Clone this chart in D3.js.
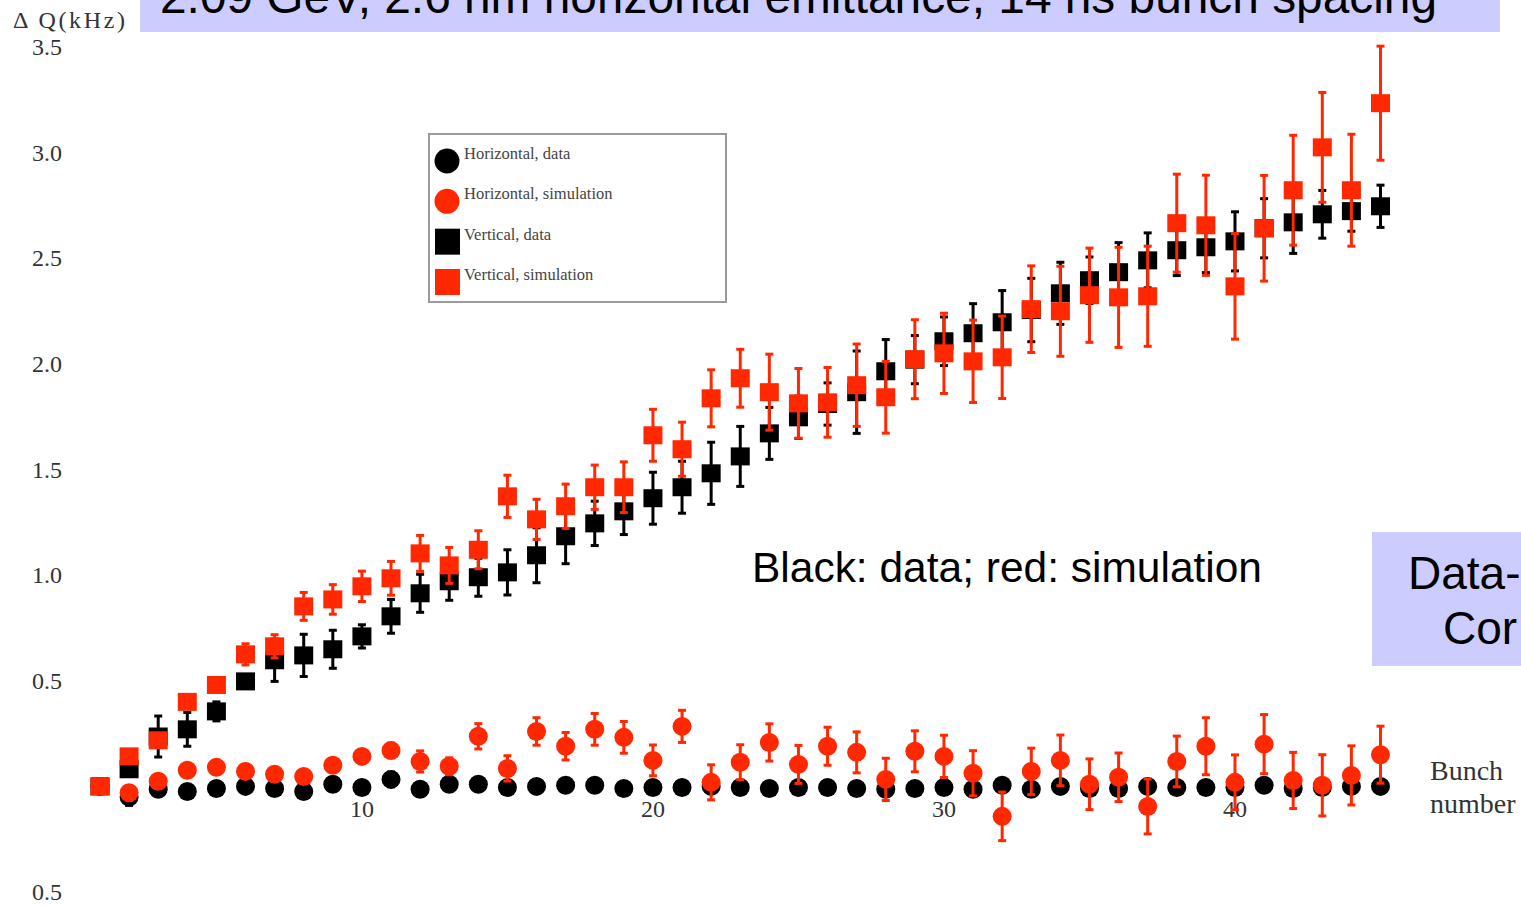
<!DOCTYPE html>
<html>
<head>
<meta charset="utf-8">
<script src="https://cdn.jsdelivr.net/npm/d3@7"></script>
<style>
  html, body { margin: 0; padding: 0; background: #fff; overflow: hidden; }
  svg { display: block; }
</style>
</head>
<body>
<svg id="chart" width="1521" height="907"></svg>
<script>
// Bunch-by-bunch tune shift along a 45-bunch train
const bunches = [1,2,3,4,5,6,7,8,9,10,11,12,13,14,15,16,17,18,19,20,21,22,23,24,25,26,27,28,29,30,31,32,33,34,35,36,37,38,39,40,41,42,43,44,45];

const xTicks = [10, 20, 30, 40];
const xTickLabels = ["10", "20", "30", "40"];
const yTicks = [3.5, 3.0, 2.5, 2.0, 1.5, 1.0, 0.5, -0.5];
const yTickLabels = ["3.5", "3.0", "2.5", "2.0", "1.5", "1.0", "0.5", "0.5"];

// Horizontal, data (kHz) and errors
const horizData = [0.0, -0.05, -0.014, -0.024, -0.01, 0.0, -0.01, -0.024, 0.01, -0.005, 0.033, -0.014, 0.01, 0.01, -0.005, 0.0, 0.005, 0.005, -0.01, -0.005, -0.005, 0.0, -0.005, -0.01, -0.005, -0.005, -0.01, -0.014, -0.01, -0.005, -0.014, 0.005, -0.014, 0.0, -0.01, -0.01, 0.0, -0.005, -0.005, -0.005, 0.005, -0.01, -0.005, 0.0, 0.0];
const horizDataErr = [0, 0.04, 0.02, 0.02, 0.01, 0.01, 0.015, 0.02, 0.02, 0.01, 0.035, 0.01, 0.01, 0.01, 0.03, 0.01, 0.01, 0.01, 0.01, 0.01, 0.01, 0.02, 0.01, 0.01, 0.01, 0.01, 0.01, 0.01, 0.01, 0.01, 0.01, 0.01, 0.01, 0.01, 0.01, 0.01, 0.01, 0.01, 0.01, 0.01, 0.01, 0.01, 0.01, 0.01, 0.01];

// Horizontal, simulation
const horizSim = [0.0, -0.03, 0.024, 0.076, 0.09, 0.071, 0.057, 0.047, 0.1, 0.142, 0.17, 0.118, 0.095, 0.237, 0.085, 0.26, 0.19, 0.27, 0.232, 0.123, 0.284, 0.019, 0.114, 0.208, 0.104, 0.19, 0.161, 0.033, 0.166, 0.142, 0.062, -0.142, 0.071, 0.123, 0.01, 0.043, -0.095, 0.118, 0.19, 0.019, 0.2, 0.028, 0.005, 0.052, 0.15];
const horizSimErr = [0, 0.01, 0.015, 0.02, 0.02, 0.02, 0.02, 0.02, 0.025, 0.03, 0.035, 0.05, 0.04, 0.06, 0.06, 0.065, 0.065, 0.075, 0.075, 0.073, 0.076, 0.083, 0.083, 0.088, 0.09, 0.09, 0.097, 0.1, 0.097, 0.1, 0.107, 0.115, 0.11, 0.12, 0.12, 0.115, 0.13, 0.12, 0.135, 0.13, 0.14, 0.133, 0.145, 0.14, 0.135];

// Vertical, data
const vertData = [0.0, 0.081, 0.236, 0.27, 0.355, 0.497, 0.597, 0.62, 0.649, 0.71, 0.805, 0.914, 0.971, 0.99, 1.013, 1.094, 1.184, 1.245, 1.302, 1.364, 1.416, 1.482, 1.562, 1.671, 1.747, 1.81, 1.866, 1.965, 2.02, 2.107, 2.145, 2.197, 2.255, 2.334, 2.396, 2.434, 2.49, 2.538, 2.552, 2.58, 2.642, 2.67, 2.708, 2.723, 2.746];
const vertDataErr = [0, 0.02, 0.097, 0.08, 0.045, 0.03, 0.1, 0.1, 0.09, 0.055, 0.08, 0.09, 0.09, 0.09, 0.107, 0.13, 0.13, 0.105, 0.11, 0.123, 0.123, 0.147, 0.142, 0.123, 0.1, 0.1, 0.195, 0.15, 0.114, 0.115, 0.14, 0.15, 0.15, 0.147, 0.11, 0.14, 0.13, 0.12, 0.12, 0.14, 0.14, 0.147, 0.113, 0.095, 0.1];

// Vertical, simulation
const vertSim = [0.0, 0.142, 0.218, 0.40, 0.48, 0.625, 0.663, 0.852, 0.885, 0.947, 0.985, 1.103, 1.046, 1.12, 1.373, 1.264, 1.326, 1.416, 1.416, 1.662, 1.596, 1.837, 1.932, 1.866, 1.813, 1.818, 1.899, 1.842, 2.022, 2.05, 2.012, 2.031, 2.259, 2.249, 2.325, 2.315, 2.32, 2.666, 2.656, 2.367, 2.642, 2.822, 3.025, 2.822, 3.234];
const vertSimErr = [0, 0.02, 0.02, 0.03, 0.03, 0.05, 0.055, 0.066, 0.07, 0.072, 0.08, 0.085, 0.085, 0.09, 0.10, 0.095, 0.105, 0.105, 0.12, 0.123, 0.128, 0.135, 0.137, 0.18, 0.165, 0.165, 0.195, 0.17, 0.187, 0.19, 0.195, 0.195, 0.205, 0.213, 0.223, 0.237, 0.237, 0.232, 0.237, 0.25, 0.25, 0.26, 0.26, 0.265, 0.27];

const legendLabels = ["Horizontal, data", "Horizontal, simulation", "Vertical, data", "Vertical, simulation"];

const RED = "#ff2800";
const BLACK = "#000000";
const serif = "'Liberation Serif', 'DejaVu Serif', serif";
const sans = "'Liberation Sans', Arial, sans-serif";

const svg = d3.select("#chart");

const x = d3.scaleLinear().domain([1, 45]).range([100, 1380.5]);
const y = d3.scaleLinear().domain([-0.5, 3.5]).range([892, 47]);

// Title banner (runs past the top edge of the page)
svg.append("rect").attr("x", 140).attr("y", -10).attr("width", 1360).attr("height", 42).attr("fill", "#ccccff");
svg.append("text")
  .attr("x", 160).attr("y", 13)
  .attr("font-family", sans).attr("font-size", 47.7)
  .attr("textLength", 1277).attr("lengthAdjust", "spacingAndGlyphs")
  .attr("fill", "#000")
  .text("2.09 GeV, 2.6 nm horizontal emittance, 14 ns bunch spacing");

// Axis title
svg.append("text")
  .attr("x", 13).attr("y", 28)
  .attr("font-family", serif).attr("font-size", 24)
  .attr("textLength", 112).attr("lengthAdjust", "spacing")
  .attr("fill", "#333")
  .text("Δ Q(kHz)");

// Y tick labels
svg.append("g").selectAll("text")
  .data(yTicks)
  .join("text")
  .attr("x", 62)
  .attr("y", d => y(d) + 8)
  .attr("text-anchor", "end")
  .attr("font-family", serif).attr("font-size", 24)
  .attr("fill", "#333")
  .text((d, i) => yTickLabels[i]);

// X tick labels
svg.append("g").selectAll("text")
  .data(xTicks)
  .join("text")
  .attr("x", d => x(d))
  .attr("y", 817)
  .attr("text-anchor", "middle")
  .attr("font-family", serif).attr("font-size", 24)
  .attr("fill", "#333")
  .text((d, i) => xTickLabels[i]);

// X axis title
svg.append("text").attr("x", 1430).attr("y", 780)
  .attr("font-family", serif).attr("font-size", 28).attr("fill", "#333").text("Bunch");
svg.append("text").attr("x", 1430).attr("y", 813)
  .attr("font-family", serif).attr("font-size", 28).attr("fill", "#333").text("number");

// Error bars and markers for one series
function drawSeries(values, errors, color, shape) {
  const g = svg.append("g");
  const rows = bunches.map((b, i) => ({ b, v: values[i], e: errors[i] }));
  const bars = g.append("g").attr("stroke", color).attr("stroke-width", 3);
  bars.selectAll("line.stem")
    .data(rows.filter(d => d.e > 0))
    .join("line")
    .attr("class", "stem")
    .attr("x1", d => x(d.b)).attr("x2", d => x(d.b))
    .attr("y1", d => y(d.v + d.e)).attr("y2", d => y(d.v - d.e));
  ["top", "bottom"].forEach(end => {
    bars.selectAll("line.cap-" + end)
      .data(rows.filter(d => d.e > 0))
      .join("line")
      .attr("class", "cap-" + end)
      .attr("x1", d => x(d.b) - 4).attr("x2", d => x(d.b) + 4)
      .attr("y1", d => y(end === "top" ? d.v + d.e : d.v - d.e))
      .attr("y2", d => y(end === "top" ? d.v + d.e : d.v - d.e));
  });
  if (shape === "circle") {
    g.append("g").selectAll("circle")
      .data(rows)
      .join("circle")
      .attr("cx", d => x(d.b)).attr("cy", d => y(d.v))
      .attr("r", 9.5).attr("fill", color);
  } else {
    g.append("g").selectAll("rect")
      .data(rows)
      .join("rect")
      .attr("x", d => x(d.b) - 9.5).attr("y", d => y(d.v) - 9)
      .attr("width", 19).attr("height", 18).attr("fill", color);
  }
}

drawSeries(horizData, horizDataErr, BLACK, "circle");
drawSeries(vertData, vertDataErr, BLACK, "square");
drawSeries(horizSim, horizSimErr, RED, "circle");
drawSeries(vertSim, vertSimErr, RED, "square");

// Legend
const legend = svg.append("g");
legend.append("rect")
  .attr("x", 429).attr("y", 134).attr("width", 297).attr("height", 168)
  .attr("fill", "#fff").attr("stroke", "#9a9a9a").attr("stroke-width", 2);
const legendItems = [
  { label: legendLabels[0], color: BLACK, shape: "circle" },
  { label: legendLabels[1], color: RED, shape: "circle" },
  { label: legendLabels[2], color: BLACK, shape: "square" },
  { label: legendLabels[3], color: RED, shape: "square" }
];
const rowY = d3.scalePoint().domain(d3.range(legendItems.length)).range([161, 282]);
legendItems.forEach((item, i) => {
  const cy = rowY(i);
  if (item.shape === "circle") {
    legend.append("circle").attr("cx", 447).attr("cy", cy).attr("r", 12.5).attr("fill", item.color);
  } else {
    legend.append("rect").attr("x", 435).attr("y", cy - 13).attr("width", 25).attr("height", 26).attr("fill", item.color);
  }
  legend.append("text")
    .attr("x", 464).attr("y", cy - 2)
    .attr("font-family", serif).attr("font-size", 16.5)
    .attr("fill", "#444")
    .text(item.label);
});

// Annotation
svg.append("text")
  .attr("x", 752).attr("y", 582)
  .attr("font-family", sans).attr("font-size", 42.5)
  .attr("textLength", 510).attr("lengthAdjust", "spacingAndGlyphs")
  .attr("fill", "#000")
  .text("Black: data; red: simulation");

// Side panel
svg.append("rect").attr("x", 1372).attr("y", 532).attr("width", 160).attr("height", 134).attr("fill", "#ccccff");
svg.append("text").attr("x", 1408).attr("y", 589)
  .attr("font-family", sans).attr("font-size", 46).attr("fill", "#000").text("Data-");
svg.append("text").attr("x", 1443).attr("y", 644)
  .attr("font-family", sans).attr("font-size", 46).attr("fill", "#000").text("Cor");
</script>
</body>
</html>
